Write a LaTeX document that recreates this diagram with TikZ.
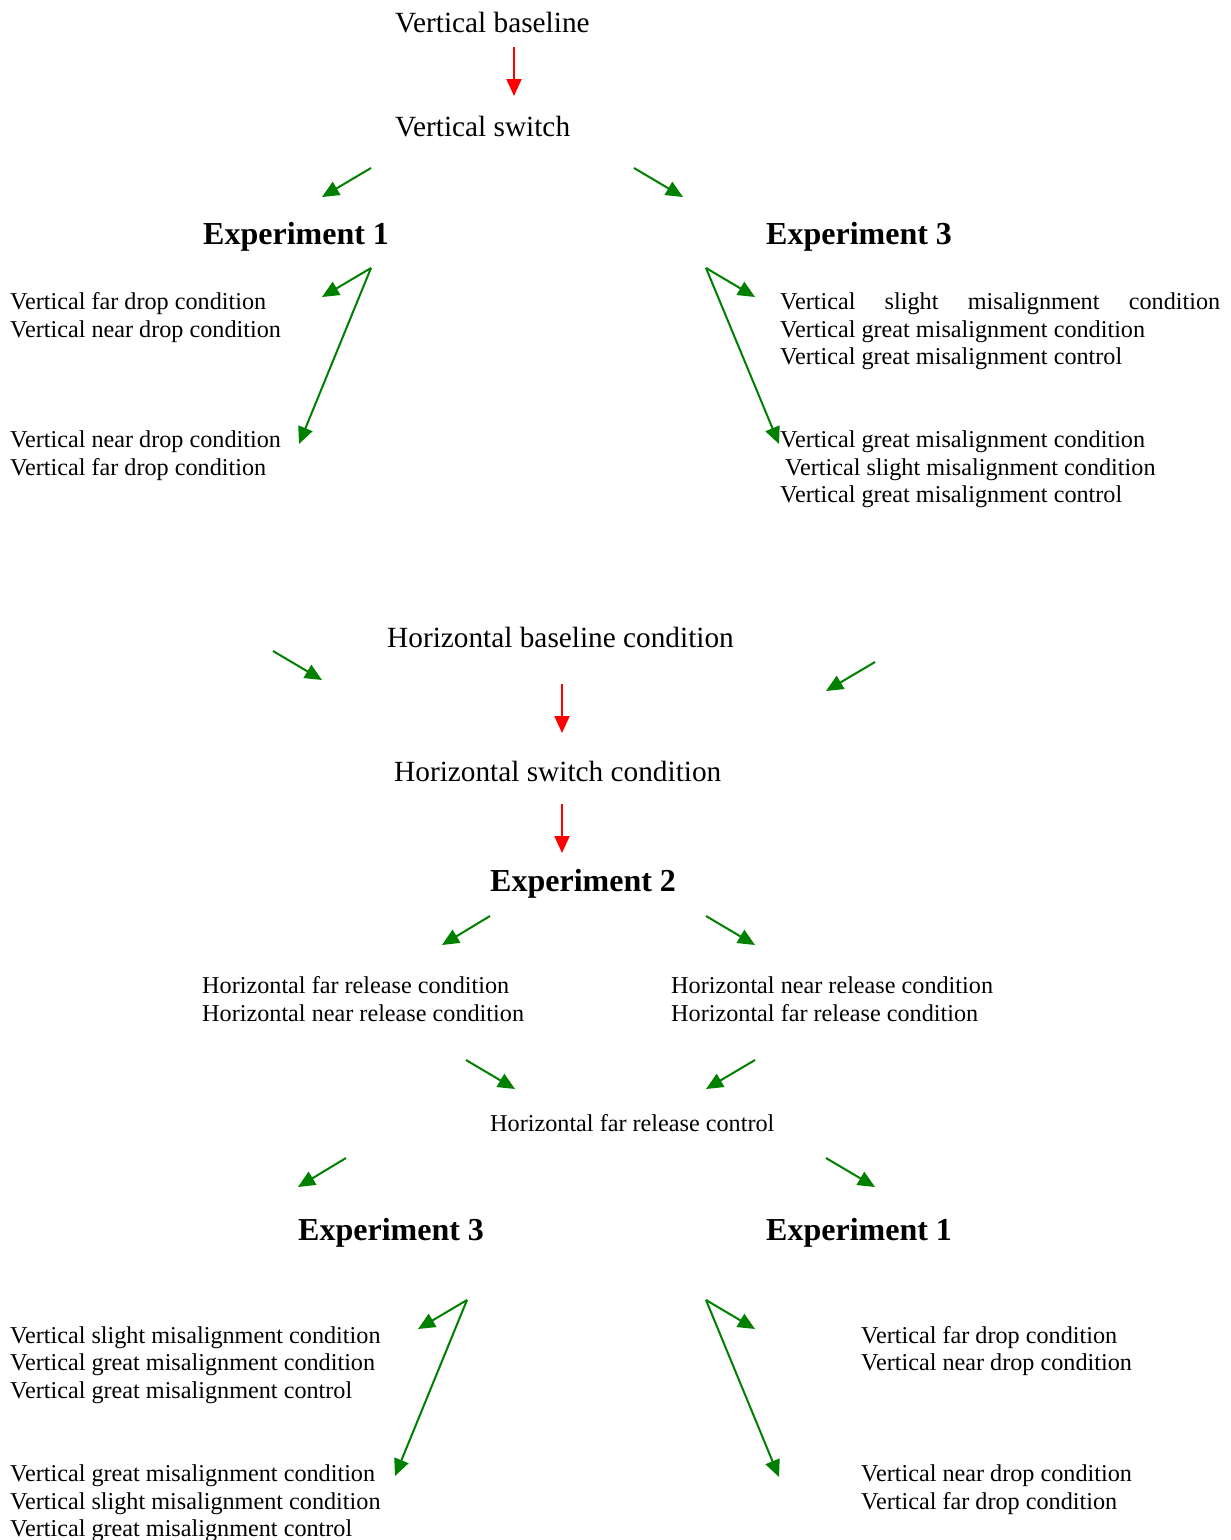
\documentclass[tikz,border=0pt]{standalone}
\usepackage{fontspec}
\setmainfont{Liberation Serif}
\usetikzlibrary{arrows.meta}
\definecolor{arrgreen}{RGB}{0,128,0}
\definecolor{arrred}{RGB}{255,0,0}
\begin{document}
\begin{tikzpicture}[x=1pt,y=-1pt,
  big/.style={anchor=base west,inner sep=0pt,font=\fontsize{29.3}{34}\selectfont},
  bold/.style={anchor=base west,inner sep=0pt,font=\fontsize{32}{38}\selectfont\bfseries},
  small/.style={anchor=base west,inner sep=0pt,font=\fontsize{24.2}{28}\selectfont},
  garrow/.style={draw=arrgreen,line width=2pt,-{Triangle[length=17pt,width=15pt]},arrgreen},
  rarrow/.style={draw=arrred,line width=2pt,-{Triangle[length=17pt,width=15pt]},arrred}]
\useasboundingbox (0,0) rectangle (1231,1540);

% ---------- top part ----------
\node[big] (vb) at (395,32) {Vertical baseline};
\node[big] (vs) at (395,136) {Vertical switch};
\node[bold] (e1a) at (203,244) {Experiment 1};
\node[bold] (e3a) at (766,244) {Experiment 3};

\node[small] (l1) at (10,309) {Vertical far drop condition};
\node[small] (l2) at (10,337) {Vertical near drop condition};
\node[small] (l3) at (10,447) {Vertical near drop condition};
\node[small] (l4) at (10,475) {Vertical far drop condition};

\node[small] (r1) at (780,309) {\makebox[440pt][s]{Vertical\hfill slight\hfill misalignment\hfill condition}};
\node[small] (r2) at (780,337) {Vertical great misalignment condition};
\node[small] (r3) at (780,364) {Vertical great misalignment control};
\node[small] (r4) at (780,447) {Vertical great misalignment condition};
\node[small] (r5) at (785,475) {Vertical slight misalignment condition};
\node[small] (r6) at (780,502) {Vertical great misalignment control};

% ---------- middle part ----------
\node[big] (hb) at (387,647) {Horizontal baseline condition};
\node[big] (hs) at (394,781) {Horizontal switch condition};
\node[bold] (e2) at (490,891) {Experiment 2};
\node[small] (m1) at (202,993) {Horizontal far release condition};
\node[small] (m2) at (202,1021) {Horizontal near release condition};
\node[small] (m3) at (671,993) {Horizontal near release condition};
\node[small] (m4) at (671,1021) {Horizontal far release condition};
\node[small] (hc) at (490,1131) {Horizontal far release control};

% ---------- bottom part ----------
\node[bold] (e3b) at (298,1240) {Experiment 3};
\node[bold] (e1b) at (766,1240) {Experiment 1};

\node[small] (b1) at (10,1343) {Vertical slight misalignment condition};
\node[small] (b2) at (10,1370) {Vertical great misalignment condition};
\node[small] (b3) at (10,1398) {Vertical great misalignment control};
\node[small] (b4) at (10,1481) {Vertical great misalignment condition};
\node[small] (b5) at (10,1509) {Vertical slight misalignment condition};
\node[small] (b6) at (10,1536) {Vertical great misalignment control};

\node[small] (c1) at (861,1343) {Vertical far drop condition};
\node[small] (c2) at (861,1370) {Vertical near drop condition};
\node[small] (c3) at (861,1481) {Vertical near drop condition};
\node[small] (c4) at (861,1509) {Vertical far drop condition};

% ---------- arrow end points ----------
\coordinate (ra1) at (514,47);  \coordinate (ra2) at (514,96);
\coordinate (rb1) at (562,684); \coordinate (rb2) at (562,733);
\coordinate (rc1) at (562,804); \coordinate (rc2) at (562,853);

\coordinate (g1s) at (371,168); \coordinate (g1e) at (322,197);
\coordinate (g2s) at (634,168); \coordinate (g2e) at (683,197);
\coordinate (g3s) at (371,268); \coordinate (g3e) at (322,297); \coordinate (g3f) at (299,444);
\coordinate (g4s) at (706,268); \coordinate (g4e) at (755,297); \coordinate (g4f) at (779,444);
\coordinate (g5s) at (273,651); \coordinate (g5e) at (322,680);
\coordinate (g6s) at (875,662); \coordinate (g6e) at (826,691);
\coordinate (g7s) at (490,916); \coordinate (g7e) at (442,945);
\coordinate (g8s) at (706,916); \coordinate (g8e) at (755,945);
\coordinate (g9s) at (466,1060); \coordinate (g9e) at (515,1089);
\coordinate (g10s) at (755,1060); \coordinate (g10e) at (706,1089);
\coordinate (g11s) at (346,1158); \coordinate (g11e) at (298,1187);
\coordinate (g12s) at (826,1158); \coordinate (g12e) at (875,1187);
\coordinate (g13s) at (467,1300); \coordinate (g13e) at (418,1329); \coordinate (g13f) at (395,1476);
\coordinate (g14s) at (706,1300); \coordinate (g14e) at (755,1329); \coordinate (g14f) at (779,1477);

% ---------- arrows ----------
\draw[rarrow] (ra1) -- (ra2);
\draw[rarrow] (rb1) -- (rb2);
\draw[rarrow] (rc1) -- (rc2);

\draw[garrow] (g1s) -- (g1e);
\draw[garrow] (g2s) -- (g2e);
\draw[garrow] (g3s) -- (g3e);
\draw[garrow] (g3s) -- (g3f);
\draw[garrow] (g4s) -- (g4e);
\draw[garrow] (g4s) -- (g4f);
\draw[garrow] (g5s) -- (g5e);
\draw[garrow] (g6s) -- (g6e);
\draw[garrow] (g7s) -- (g7e);
\draw[garrow] (g8s) -- (g8e);
\draw[garrow] (g9s) -- (g9e);
\draw[garrow] (g10s) -- (g10e);
\draw[garrow] (g11s) -- (g11e);
\draw[garrow] (g12s) -- (g12e);
\draw[garrow] (g13s) -- (g13e);
\draw[garrow] (g13s) -- (g13f);
\draw[garrow] (g14s) -- (g14e);
\draw[garrow] (g14s) -- (g14f);
\end{tikzpicture}
\end{document}
